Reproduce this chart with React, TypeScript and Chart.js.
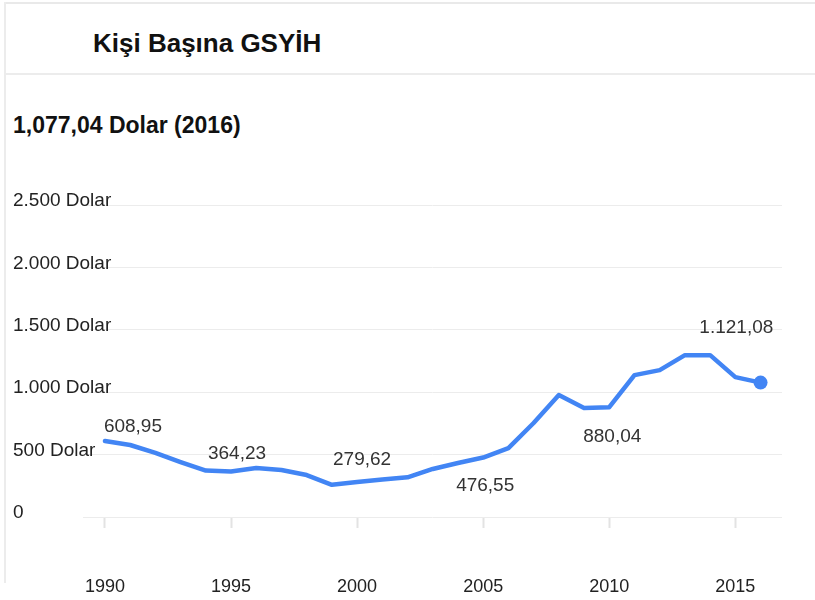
import React, { useEffect, useRef } from "react";
import { Chart, registerables } from "chart.js";

Chart.register(...registerables);

const titleText = "Kişi Başına GSYİH";
const subtitleText = "1,077,04 Dolar (2016)";

const years = [
  1990, 1991, 1992, 1993, 1994, 1995, 1996, 1997, 1998, 1999,
  2000, 2001, 2002, 2003, 2004, 2005, 2006, 2007, 2008, 2009,
  2010, 2011, 2012, 2013, 2014, 2015, 2016,
];
const gdpPerCapita = [
  608.95, 577, 513, 440, 372, 364.23, 392, 376, 336, 258,
  279.62, 300, 318, 385, 433, 476.55, 552, 753, 977, 873,
  880.04, 1137, 1177, 1297, 1297, 1121.08, 1077.04,
];

const xTickYears = [1990, 1995, 2000, 2005, 2010, 2015];
const yTickValues = [0, 500, 1000, 1500, 2000, 2500];
const yTickLabels = ["0", "500 Dolar", "1.000 Dolar", "1.500 Dolar", "2.000 Dolar", "2.500 Dolar"];

const annotatedYears = [1990, 1995, 2000, 2005, 2010, 2015];
const annotationOffsets: [number, number][] = [
  [28, -14],
  [6, -18],
  [5, -22],
  [2, 28],
  [3, 30],
  [1, -49],
];

const FONT = '"Liberation Sans", Arial, sans-serif';
const BLUE = "#4285f4";

function formatTr(v: number): string {
  const [i, d] = v.toFixed(2).split(".");
  const withDots = i.replace(/\B(?=(\d{3})+(?!\d))/g, ".");
  return withDots + "," + d;
}

const valueLabels = {
  id: "valueLabels",
  afterDatasetsDraw(chart: any) {
    const { ctx } = chart;
    const xs = chart.scales.x;
    const ys = chart.scales.y;
    ctx.save();
    ctx.font = `19px ${FONT}`;
    ctx.fillStyle = "#333";
    ctx.textAlign = "center";
    ctx.textBaseline = "middle";
    annotatedYears.forEach((yr, k) => {
      const idx = years.indexOf(yr);
      const v = gdpPerCapita[idx];
      const off = annotationOffsets[k];
      ctx.fillText(formatTr(v), xs.getPixelForValue(yr) + off[0], ys.getPixelForValue(v) + off[1]);
    });
    ctx.restore();
  },
};

export default function App() {
  const ref = useRef<HTMLCanvasElement>(null);

  useEffect(() => {
    const canvas = ref.current;
    if (!canvas) return;
    const chart = new Chart(canvas, {
      type: "line",
      data: {
        datasets: [
          {
            data: years.map((yr, i) => ({ x: yr, y: gdpPerCapita[i] })),
            borderColor: BLUE,
            backgroundColor: BLUE,
            borderWidth: 4.5,
            tension: 0,
            fill: false,
            pointRadius: years.map((_, i) => (i === years.length - 1 ? 7 : 0)),
            pointHoverRadius: years.map((_, i) => (i === years.length - 1 ? 7 : 0)),
            pointBackgroundColor: BLUE,
            pointBorderWidth: 0,
            borderJoinStyle: "round",
            borderCapStyle: "round",
          } as any,
        ],
      },
      options: {
        responsive: false,
        maintainAspectRatio: false,
        animation: false,
        devicePixelRatio: 1,
        layout: { padding: { left: 13, right: 33, top: 55, bottom: 0 } },
        plugins: {
          legend: { display: false },
          tooltip: { enabled: false },
          title: { display: false },
        },
        scales: {
          x: {
            type: "linear",
            min: 1989.13,
            max: 2016.85,
            afterBuildTicks: (scale: any) => {
              scale.ticks = xTickYears.map((v) => ({ value: v }));
            },
            afterFit: (scale: any) => {
              scale.height = 83;
            },
            border: { display: false },
            grid: {
              display: true,
              drawOnChartArea: false,
              drawTicks: true,
              tickLength: 11,
              tickColor: "#e3e3e3",
              tickWidth: 2,
            },
            ticks: {
              color: "#222",
              font: { family: FONT, size: 18 },
              padding: 48,
              maxRotation: 0,
              autoSkip: false,
              callback: (v: any) => String(v),
            },
          },
          y: {
            type: "linear",
            min: 0,
            max: 2500,
            afterBuildTicks: (scale: any) => {
              scale.ticks = yTickValues.map((v) => ({ value: v }));
            },
            afterFit: (scale: any) => {
              scale.width = 70;
            },
            border: { display: false },
            grid: {
              color: "#ececec",
              lineWidth: 1,
              drawTicks: false,
              tickLength: 0,
            },
            ticks: {
              color: "#222",
              font: { family: FONT, size: 19 },
              mirror: true,
              padding: -70,
              crossAlign: "near",
              labelOffset: -4,
              autoSkip: false,
              callback: (v: any) => {
                const i = yTickValues.indexOf(Number(v));
                return i >= 0 ? yTickLabels[i] : "";
              },
            },
          },
        },
      } as any,
      plugins: [valueLabels],
    });
    return () => chart.destroy();
  }, []);

  return (
    <div
      style={{
        position: "fixed",
        left: 0,
        top: 0,
        width: 815,
        height: 600,
        background: "#fff",
        overflow: "hidden",
        fontFamily: FONT,
      }}
    >
      <div style={{ position: "absolute", left: 4, top: 2, width: 811, height: 2, background: "#e9e9e9" }} />
      <div style={{ position: "absolute", left: 4, top: 2, width: 2, height: 581, background: "#ececec" }} />
      <div style={{ position: "absolute", left: 5, top: 73, width: 810, height: 2, background: "#ececec" }} />
      <div
        style={{
          position: "absolute",
          left: 93,
          top: 30,
          fontSize: 26,
          lineHeight: "26px",
          fontWeight: "bold",
          color: "#111",
          whiteSpace: "nowrap",
        }}
      >
        {titleText}
      </div>
      <div
        style={{
          position: "absolute",
          left: 13,
          top: 114,
          fontSize: 23,
          lineHeight: "23px",
          fontWeight: "bold",
          color: "#111",
          whiteSpace: "nowrap",
        }}
      >
        {subtitleText}
      </div>
      <canvas
        ref={ref}
        width={815}
        height={450}
        style={{ position: "absolute", left: 0, top: 150, width: 815, height: 450 }}
      />
    </div>
  );
}
